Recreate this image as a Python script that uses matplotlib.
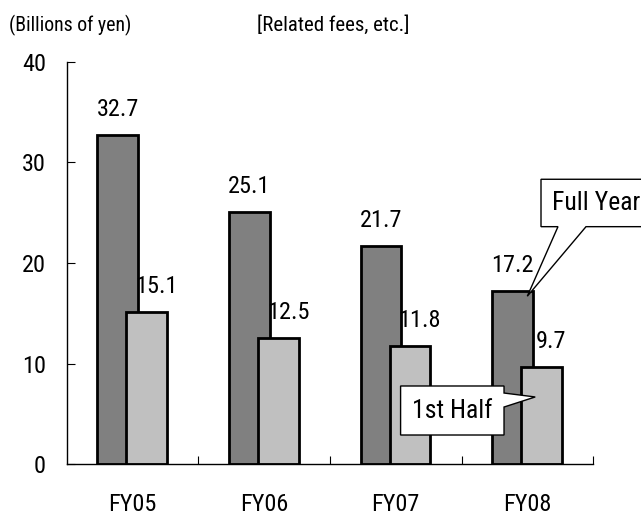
import matplotlib
matplotlib.use('Agg')
import matplotlib.pyplot as plt
from matplotlib import font_manager
from matplotlib.patches import Polygon
import numpy as np

########################################################################################################################
## data
########################################################################################################################
years = ['FY05', 'FY06', 'FY07', 'FY08']
full_year = [32.7, 25.1, 21.7, 17.2]
first_half = [15.1, 12.5, 11.8, 9.7]
y_ticks = [0, 10, 20, 30, 40]

## narrow font, close to the original
names = set(f.name for f in font_manager.fontManager.ttflist)
family = 'Liberation Sans'
for cand in ['Liberation Sans Narrow', 'Arial Narrow', 'Roboto Condensed', 'Archivo Narrow', 'PT Sans Narrow']:
    if cand in names:
        family = cand
        break
plt.rcParams['font.family'] = [family, 'DejaVu Sans']

dark = '#808080'
light = '#c0c0c0'
bar_w = 0.31
off_dark = -0.112
off_light = 0.108

fig = plt.figure(figsize=(6.41, 5.16), dpi=100, facecolor='w')
ax = fig.add_axes([0.1041, 0.1002, 0.8212, 0.7802])

x = np.arange(len(years))
ax.bar(x + off_dark, full_year, bar_w, color=dark, edgecolor='black', linewidth=2.0, zorder=2)
ax.bar(x + off_light, first_half, bar_w, color=light, edgecolor='black', linewidth=2.0, zorder=3)

## value labels
for i in range(len(years)):
    ax.annotate('%.1f' % full_year[i], (x[i] + off_dark, full_year[i]), xytext=(0, 13.7),
                textcoords='offset points', ha='center', va='baseline', fontsize=17.5, zorder=5)
    ax.annotate('%.1f' % first_half[i], (x[i] + off_light, first_half[i]), xytext=(7, 13.7),
                textcoords='offset points', ha='center', va='baseline', fontsize=17.5, zorder=5)

ax.set_xlim(-0.5, len(years) - 0.5)
ax.set_ylim(0, 40)
ax.set_yticks(y_ticks)
ax.set_yticklabels([str(v) for v in y_ticks], fontsize=17.5)
ax.set_xticks(x)
ax.set_xticklabels(years, fontsize=17.5)
ax.set_xticks(x + 0.5, minor=True)
ax.tick_params(axis='x', which='major', length=0, pad=20.5)
ax.tick_params(axis='x', which='minor', direction='in', length=6, width=0.8)
ax.tick_params(axis='y', direction='in', length=6, width=0.8, pad=14.9)
for s in ['top', 'right']:
    ax.spines[s].set_visible(False)
for s in ['left', 'bottom']:
    ax.spines[s].set_linewidth(1.0)
    ax.spines[s].set_zorder(4)

## callouts
fy_box = (3.104, 3.95, 23.61, 28.32)
fy_base = (3.233, 3.446)
fy_tip = (3.0, 16.7)
pts = [(fy_box[0], fy_box[3]), (fy_box[1], fy_box[3]), (fy_box[1], fy_box[2]),
       (fy_base[1], fy_box[2]), fy_tip, (fy_base[0], fy_box[2]), (fy_box[0], fy_box[2])]
ax.add_patch(Polygon(pts, closed=True, facecolor='w', edgecolor='black', linewidth=1.0,
                     clip_on=False, zorder=6))
ax.text(3.188, (fy_box[2] + fy_box[3]) / 2, 'Full Year', ha='left', va='center',
        fontsize=18.5, zorder=7, clip_on=False)

h_box = (2.037, 2.823, 2.91, 7.78)
h_base = (5.69, 7.08)
h_tip = (3.06, 6.69)
pts = [(h_box[0], h_box[3]), (h_box[1], h_box[3]), (h_box[1], h_base[1]), h_tip,
       (h_box[1], h_base[0]), (h_box[1], h_box[2]), (h_box[0], h_box[2])]
ax.add_patch(Polygon(pts, closed=True, facecolor='w', edgecolor='black', linewidth=1.0,
                     clip_on=False, zorder=6))
ax.text((h_box[0] + h_box[1]) / 2, (h_box[2] + h_box[3]) / 2, '1st Half', ha='center', va='center',
        fontsize=18.5, zorder=7)

## headers
fig.text(9 / 641, 1 - 25 / 516, '(Billions of yen)', ha='left', va='center', fontsize=14.3)
fig.text(333 / 641, 1 - 25 / 516, '[Related fees, etc.]', ha='center', va='center', fontsize=15)

fig.savefig('out.png', dpi=100, facecolor='w')
